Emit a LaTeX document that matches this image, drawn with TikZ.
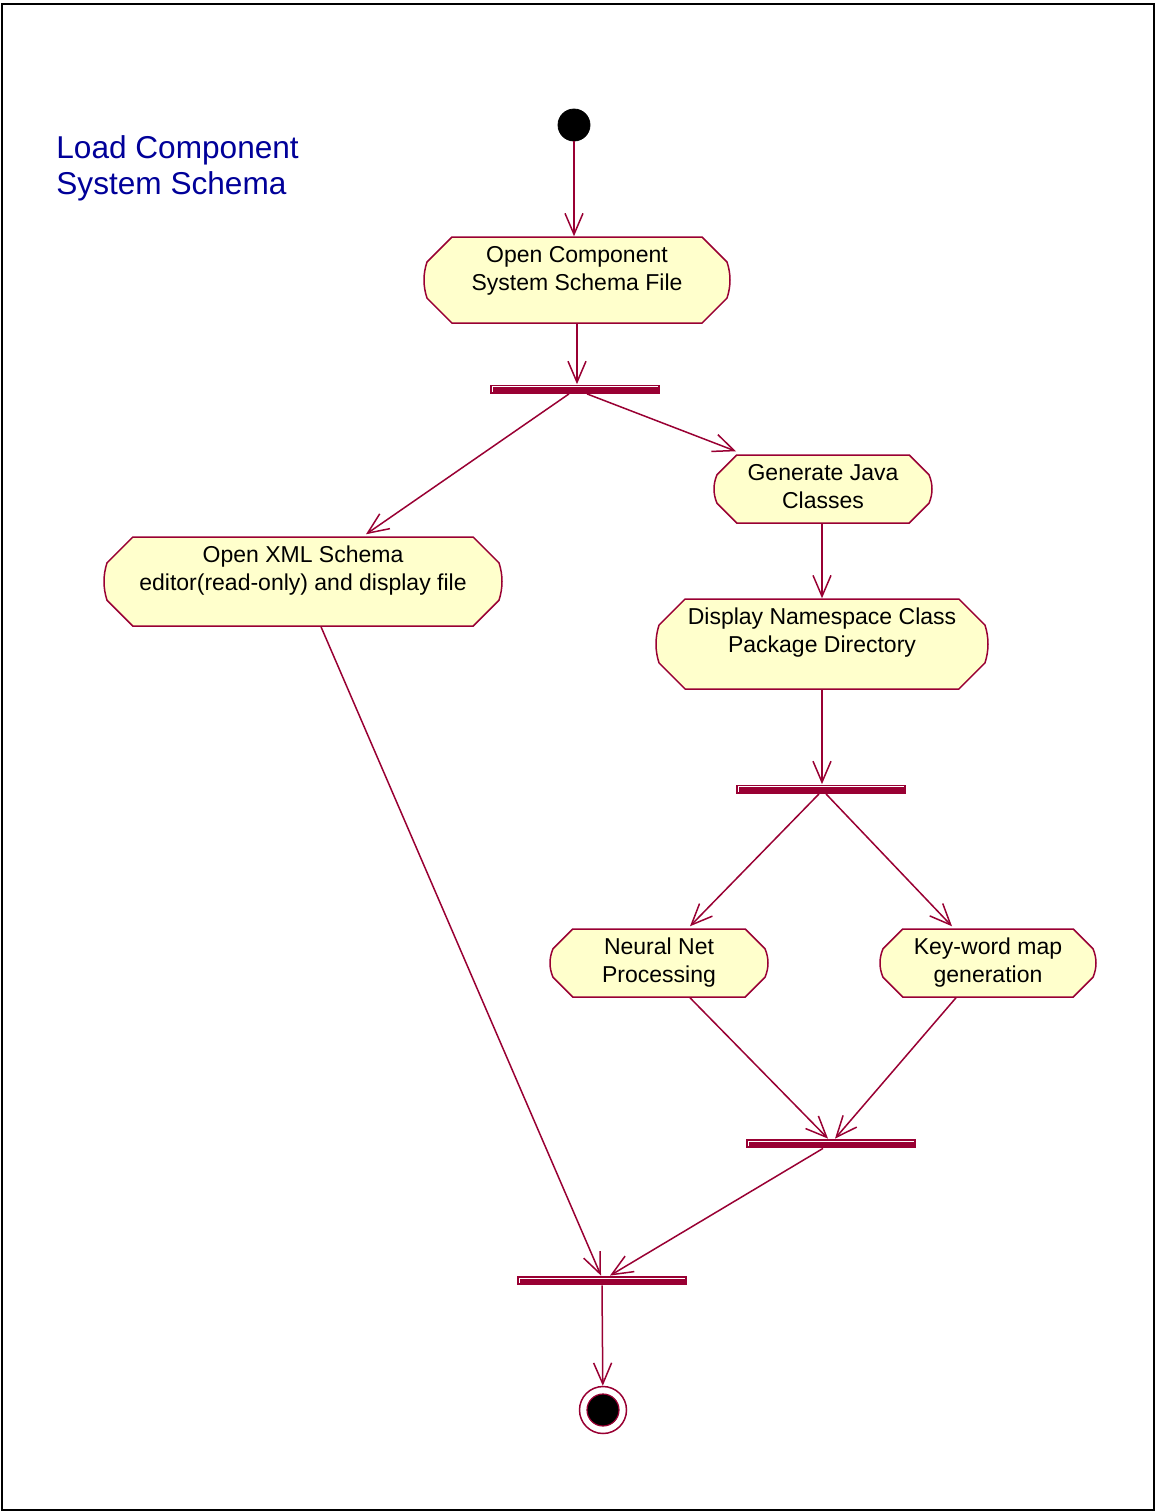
\documentclass[tikz,border=0pt]{standalone}
\usepackage{fontspec}
\setmainfont{Liberation Sans}
\usetikzlibrary{arrows.meta,
		calc}

\definecolor{rosered}{RGB}{153,0,51}
\definecolor{roseyellow}{RGB}{255,255,204}
\definecolor{rosetitle}{RGB}{0,0,153}

% activity state: name, x, y, half width, half height, text depth, text
\newcommand{\rosestate}[7]{%
  \pgfmathsetmacro\rcy{0.58*#5}%
  \pgfmathsetmacro\rcx{\rcy+3}%
  \pgfmathsetmacro\rsy{(#5-\rcy)/3}%
  \draw [statebox, shift={(#2,#3)}]
    (-#4+\rcx,-#5) -- (#4-\rcx,-#5) -- (#4-3,-#5+\rcy)
    .. controls (#4+1,-\rsy) and (#4+1,\rsy) .. (#4-3,#5-\rcy)
    -- (#4-\rcx,#5) -- (-#4+\rcx,#5) -- (-#4+3,#5-\rcy)
    .. controls (-#4-1,\rsy) and (-#4-1,-\rsy) .. (-#4+3,-#5+\rcy) -- cycle
    node [statetext, minimum width=#4pt, minimum height=#5pt,
      text depth=#6pt] (#1) at (0,0) {#7};}

\begin{document}
\begin{tikzpicture}[x=0.5pt, y=-0.5pt,
  statebox/.style={draw=rosered, fill=roseyellow, line width=0.75pt},
  statetext/.style={rectangle, align=center, inner sep=0pt,
    font=\fontsize{11.5}{14}\selectfont},
  syncbar/.style={rectangle, fill=rosered, minimum width=85pt,
    minimum height=4.5pt, inner sep=0pt,
    path picture={\draw[white, line width=0.4pt]
      ([shift={(1.2pt,-3.6pt)}]path picture bounding box.north west)
      |- ([shift={(-0.8pt,-1.1pt)}]path picture bounding box.north east);}},
  flow/.style={draw=rosered, line width=0.75pt,
    -{Straight Barb[length=10.5pt, width=9pt]}}]

\useasboundingbox (0,0) rectangle (1156,1511);
\draw [line width=1pt] (1.5,3.5) rectangle (1154,1509.5);

% title
\node [anchor=north west, align=left, inner sep=0pt, text=rosetitle,
  font=\fontsize{15.8}{18}\selectfont] (title) at (56,135)
  {Load Component\\System Schema};

% states
\node [circle, fill=black, draw=black, minimum size=16pt, inner sep=0pt]
  (start) at (574,125) {};
\rosestate{open}{577}{280}{153}{43}{12}{Open Component\\System Schema File}
\node [syncbar] (fork1) at (575,389) {};
\rosestate{java}{823}{489}{109}{34}{3}{Generate Java\\Classes}
\rosestate{xml}{303}{581.5}{199}{44.5}{13.5}{Open XML Schema\\editor(read-only) and display file}
\rosestate{namespace}{822}{644}{166}{45}{14}{Display Namespace Class\\Package Directory}
\node [syncbar] (fork2) at (821,789) {};
\rosestate{neural}{659}{963}{109}{34}{3}{Neural Net\\Processing}
\rosestate{keyword}{988}{963}{108}{34}{3}{Key-word map\\generation}
\node [syncbar] (join1) at (831,1143.5) {};
\node [syncbar] (join2) at (602,1280.5) {};
\node [circle, draw=rosered, fill=white, line width=0.75pt, minimum size=23.5pt,
  inner sep=0pt] (final) at (603,1410) {};
\fill [black, draw=rosered, line width=0.6pt] (final) circle (8pt);

% transitions
\draw [flow] (start) -- (start |- open.north);
\draw [flow] (open.south) -- (open.south |- fork1.north);
\draw [flow] ($(fork1.south)+(-6,0)$) -- ($(xml.north)+(63,-2)$);
\draw [flow] ($(fork1.south)+(12,0)$) -- ($(java.north)+(-87,-3)$);
\draw [flow] (namespace.north |- java.south) -- (namespace.north);
\draw [flow] (namespace.south) -- (namespace.south |- fork2.north);
\draw [flow] ($(fork2.south)+(-2,0)$) -- ($(neural.north)+(31,-2)$);
\draw [flow] ($(fork2.south)+(5,0)$) -- ($(keyword.north)+(-36,-2)$);
\draw [flow] ($(neural.south)+(31,0)$) -- ($(join1.north)+(-3,0)$);
\draw [flow] ($(keyword.south)+(-32,0)$) -- ($(join1.north)+(4,0)$);
\draw [flow] ($(join1.south)+(-8,0)$) -- ($(join2.north)+(8,0)$);
\draw [flow] ($(xml.south)+(18,0)$) -- ($(join2.north)+(-1,0)$);
\draw [flow] (join2.south) -- (final);

\end{tikzpicture}
\end{document}
